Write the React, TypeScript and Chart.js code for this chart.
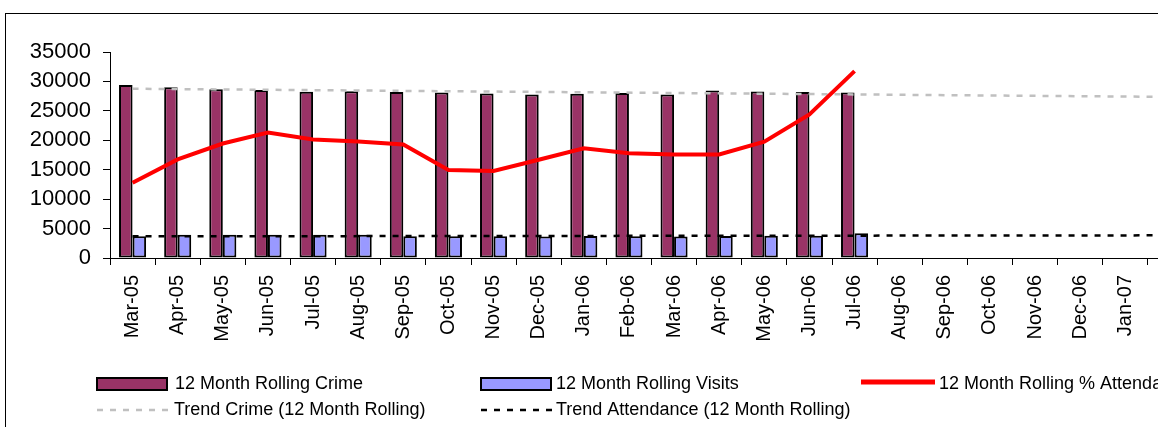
import React, { useEffect, useRef } from "react";
import { Chart, registerables } from "chart.js";

Chart.register(...registerables);

const months: string[] = [
  "Mar-05", "Apr-05", "May-05", "Jun-05", "Jul-05", "Aug-05", "Sep-05", "Oct-05",
  "Nov-05", "Dec-05", "Jan-06", "Feb-06", "Mar-06", "Apr-06", "May-06", "Jun-06",
  "Jul-06", "Aug-06", "Sep-06", "Oct-06", "Nov-06", "Dec-06", "Jan-07", "Feb-07",
];

const rollingCrime: (number | null)[] = [
  29400, 29000, 28650, 28550, 28250, 28350, 28200, 28100, 27950, 27800, 27900, 28050,
  27800, 28450, 28300, 28200, 28100,
];

const rollingVisits: (number | null)[] = [
  3700, 3950, 3950, 3950, 3950, 3950, 3700, 3700, 3700, 3650, 3750, 3700,
  3650, 3750, 3800, 3800, 4200,
];

const rollingAttendancePct: (number | null)[] = [
  12800, 16750, 19450, 21300, 20150, 19800, 19300, 14950, 14800, 16700, 18650, 17800,
  17600, 17600, 19750, 24400, 31750,
];

const trendCrime: (number | null)[] = [
  28760, null, null, null, null, null, null, null, null, null, null, null,
  null, null, null, null, null, null, null, null, null, null, null, 27370,
];

const trendAttendance: (number | null)[] = [
  3680, null, null, null, null, null, null, null, null, null, null, null,
  null, null, null, null, null, null, null, null, null, null, null, 3850,
];

const yTicks: number[] = [0, 5000, 10000, 15000, 20000, 25000, 30000, 35000];

const legendRow1: string[] = [
  "12 Month Rolling Crime",
  "12 Month Rolling Visits",
  "12 Month Rolling % Attendance",
];
const legendRow2: string[] = [
  "Trend Crime (12 Month Rolling)",
  "Trend Attendance (12 Month Rolling)",
];

const FONT = '"Liberation Sans", Arial, sans-serif';
const CANVAS_W = 1213;
const CANVAS_H = 427;

const legendPlugin = {
  id: "customLegend",
  afterDraw(chart: any) {
    const ctx = chart.ctx as CanvasRenderingContext2D;
    ctx.save();
    ctx.font = `18px ${FONT}`;
    ctx.textBaseline = "middle";
    ctx.textAlign = "left";
    const y1 = 384;
    const y2 = 410;
    ctx.fillStyle = "#993366";
    ctx.fillRect(97, 378, 70, 12);
    ctx.strokeStyle = "#000";
    ctx.lineWidth = 2;
    ctx.strokeRect(97, 378, 70, 12);
    ctx.fillStyle = "#9999FF";
    ctx.fillRect(481, 378, 70, 12);
    ctx.strokeRect(481, 378, 70, 12);
    ctx.strokeStyle = "#FF0000";
    ctx.lineWidth = 5;
    ctx.beginPath();
    ctx.moveTo(861, 382);
    ctx.lineTo(935, 382);
    ctx.stroke();
    ctx.setLineDash([6, 7]);
    ctx.lineWidth = 2.5;
    ctx.strokeStyle = "#C0C0C0";
    ctx.beginPath();
    ctx.moveTo(97, 410);
    ctx.lineTo(172, 410);
    ctx.stroke();
    ctx.strokeStyle = "#000";
    ctx.beginPath();
    ctx.moveTo(481, 410);
    ctx.lineTo(554, 410);
    ctx.stroke();
    ctx.setLineDash([]);
    ctx.fillStyle = "#000";
    ctx.fillText(legendRow1[0], 175, y1);
    ctx.fillText(legendRow1[1], 556, y1);
    ctx.fillText(legendRow1[2], 939, y1);
    ctx.fillText(legendRow2[0], 174, y2);
    ctx.fillText(legendRow2[1], 556, y2);
    ctx.restore();
  },
};

export default function App() {
  const canvasRef = useRef<HTMLCanvasElement | null>(null);

  useEffect(() => {
    if (!canvasRef.current) return;
    const chart = new Chart(canvasRef.current, {
      type: "bar",
      data: {
        labels: months,
        datasets: [
          {
            type: "line",
            label: legendRow1[2],
            data: rollingAttendancePct,
            borderColor: "#FF0000",
            borderWidth: 4,
            pointRadius: 0,
            tension: 0,
            order: 0,
          } as any,
          {
            type: "line",
            label: legendRow2[1],
            data: trendAttendance,
            borderColor: "#000000",
            borderWidth: 2.5,
            borderDash: [6, 7],
            pointRadius: 0,
            spanGaps: true,
            order: 1,
          } as any,
          {
            type: "line",
            label: legendRow2[0],
            data: trendCrime,
            borderColor: "#C0C0C0",
            borderWidth: 2.5,
            borderDash: [6, 7],
            pointRadius: 0,
            spanGaps: true,
            order: 2,
          } as any,
          {
            type: "bar",
            label: legendRow1[0],
            data: rollingCrime,
            backgroundColor: "#993366",
            borderColor: "#000000",
            borderWidth: 2,
            borderSkipped: false,
            categoryPercentage: 0.6,
            barPercentage: 1.0,
            order: 3,
          } as any,
          {
            type: "bar",
            label: legendRow1[1],
            data: rollingVisits,
            backgroundColor: "#9999FF",
            borderColor: "#000000",
            borderWidth: 2,
            borderSkipped: false,
            categoryPercentage: 0.6,
            barPercentage: 1.0,
            order: 4,
          } as any,
        ],
      },
      options: {
        responsive: false,
        animation: false,
        devicePixelRatio: 1,
        layout: { padding: { top: 52, right: 20, bottom: 0, left: 0 } },
        plugins: {
          legend: { display: false },
          tooltip: { enabled: false },
        },
        scales: {
          x: {
            type: "category",
            offset: true,
            grid: {
              offset: true,
              drawOnChartArea: false,
              drawTicks: true,
              tickLength: 7,
              color: "#000",
            },
            border: { display: true, color: "#000", width: 1 },
            ticks: {
              autoSkip: false,
              minRotation: 90,
              maxRotation: 90,
              padding: 10,
              color: "#000",
              font: { family: FONT, size: 20 },
            },
            afterFit(scale: any) {
              scale.height = CANVAS_H - 258;
            },
          },
          y: {
            min: 0,
            max: 35000,
            afterBuildTicks(scale: any) {
              scale.ticks = yTicks.map((v) => ({ value: v }));
            },
            grid: {
              drawOnChartArea: false,
              drawTicks: true,
              tickLength: 7,
              color: "#000",
            },
            border: { display: true, color: "#000", width: 1 },
            ticks: {
              padding: 12,
              color: "#000",
              font: { family: FONT, size: 22 },
              callback: (v: any) => String(v),
            },
            afterFit(scale: any) {
              scale.width = 110;
            },
          },
        },
      },
      plugins: [legendPlugin],
    });
    return () => chart.destroy();
  }, []);

  return (
    <div
      style={{
        position: "fixed",
        left: 0,
        top: 0,
        width: 1158,
        height: 427,
        overflow: "hidden",
        background: "#fff",
      }}
    >
      <div style={{ position: "relative", width: CANVAS_W, height: CANVAS_H }}>
        <div
          style={{
            position: "absolute",
            left: 5,
            top: 13,
            width: 1400,
            height: 600,
            borderLeft: "1px solid #000",
            borderTop: "1px solid #000",
            boxSizing: "border-box",
          }}
        />
        <canvas
          ref={canvasRef}
          width={CANVAS_W}
          height={CANVAS_H}
          style={{ position: "absolute", left: 0, top: 0, width: CANVAS_W, height: CANVAS_H, display: "block" }}
        />
      </div>
    </div>
  );
}
